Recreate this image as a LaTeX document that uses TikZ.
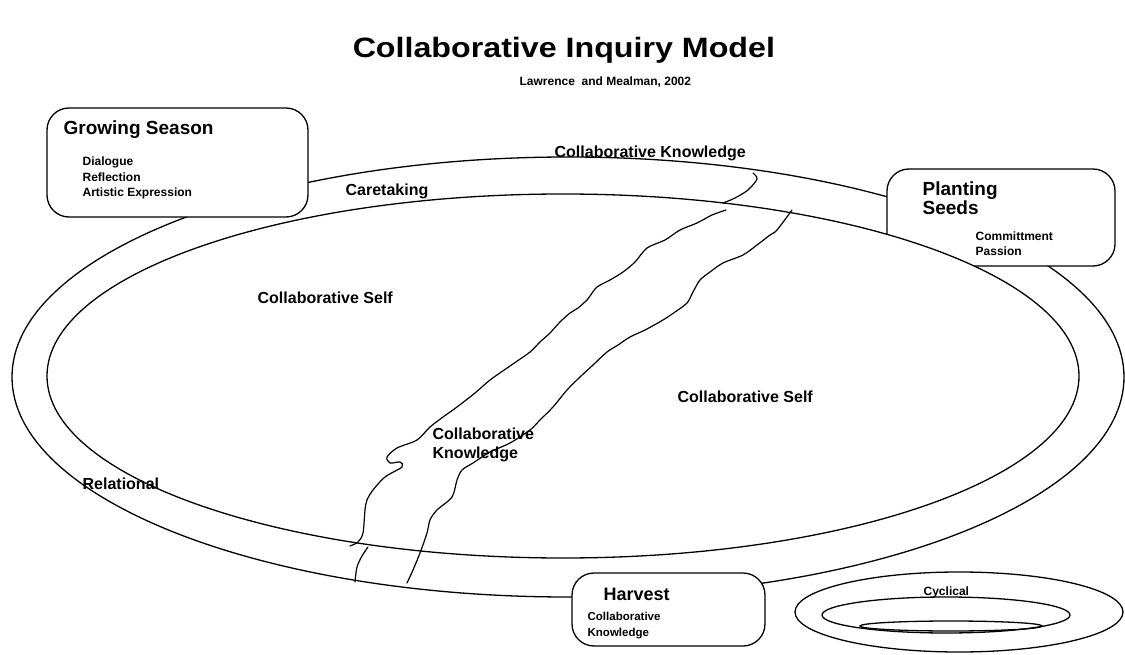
\documentclass[tikz,border=0pt]{standalone}
\usepackage{fontspec}
\setmainfont{Liberation Sans}
\begin{document}
\begin{tikzpicture}[x=1pt,y=-1pt,
  line width=1.3pt,
  lbl/.style={anchor=base west,inner sep=0pt,font=\bfseries\fontsize{#1}{#1}\selectfont},
  roundbox/.style={draw,fill=white,rounded corners=22pt,inner sep=0pt},
  crack/.style={line width=1.2pt,line join=round,line cap=round}]
\useasboundingbox (0,0) rectangle (1125,655);
% main rings
\draw (568,377) ellipse [x radius=556, y radius=220];
% boxes
\node[roundbox,minimum width=261pt,minimum height=109pt] (grow) at (177.5,162.5) {};
\node[roundbox,minimum width=228pt,minimum height=97pt] (plant) at (1001,217.5) {};
\node[roundbox,minimum width=193pt,minimum height=73pt] (harv) at (668.5,609.5) {};
\draw[fill=white] (563,376) ellipse [x radius=516, y radius=182];
% cracks
\draw[crack] plot[smooth,tension=0.5] coordinates {(753,173) (757,179) (748,190) (735,198) (723,203)};
\draw[crack] plot[smooth,tension=0.5] coordinates {(726,210) (712,215) (697,223) (680,230) (665,240) (647,248) (635,262) (623,272) (610,280) (597,287) (590,296) (587,300) (578,308) (570,313) (560,322) (550,333) (540,342) (530,352) (510,366) (490,380) (475,393) (457,407) (443,417) (430,427) (417,440) (397,448) (387,457) (390,463) (400,462) (402,467) (385,477) (373,490) (367,500) (365,510) (363,533) (358,542) (350,546)};
\draw[crack] plot[smooth,tension=0.5] coordinates {(368,547) (362,556) (357,567) (355,582)};
\draw[crack] plot[smooth,tension=0.5] coordinates {(792,210) (777,230) (770,235) (757,245) (743,255) (723,263) (710,272) (700,280) (693,292) (687,303) (675,312) (663,320) (645,330) (630,337) (618,345) (607,352) (593,365) (580,377) (567,390) (553,407) (540,420) (530,430) (510,443) (490,452) (473,463) (462,470) (457,480) (452,497) (437,510) (430,520) (427,533) (420,553) (413,570) (407,583)};
% cyclical
\draw (959,612) ellipse [x radius=164, y radius=40];
\draw (946,615) ellipse [x radius=124, y radius=18];
\draw (951,626) ellipse [x radius=91, y radius=5];
% texts
\node[lbl=28,xscale=1.15] (title) at (352,58) {Collaborative Inquiry Model};
\node[lbl=12] (sub) at (519,86) {Lawrence\ \ and Mealman, 2002};
\node[lbl=16] (ckTop) at (554,158) {Collaborative Knowledge};
\node[lbl=16] (care) at (345,196) {Caretaking};
\node[lbl=16] (selfL) at (257,304) {Collaborative Self};
\node[lbl=16] (selfR) at (677,402) {Collaborative Self};
\node[lbl=16] (ckMid1) at (432,439) {Collaborative};
\node[lbl=16] (ckMid2) at (432,458) {Knowledge};
\node[lbl=16] (rel) at (82,489) {Relational};
\node[lbl=19] (growT) at (63,135) {Growing Season};
\node[lbl=12] (dia) at (82,166) {Dialogue};
\node[lbl=12] (refl) at (82,181.5) {Reflection};
\node[lbl=12] (art) at (82,197) {Artistic Expression};
\node[lbl=19] (plant1) at (922,196) {Planting};
\node[lbl=19] (plant2) at (922,215) {Seeds};
\node[lbl=12] (comm) at (975,241) {Committment};
\node[lbl=12] (pass) at (975,256) {Passion};
\node[lbl=18] (harvT) at (603,600) {Harvest};
\node[lbl=11.5] (hc1) at (587,620) {Collaborative};
\node[lbl=11.5] (hc2) at (587,636) {Knowledge};
\node[lbl=12] (cyc) at (923,595) {Cyclical};
\end{tikzpicture}
\end{document}
